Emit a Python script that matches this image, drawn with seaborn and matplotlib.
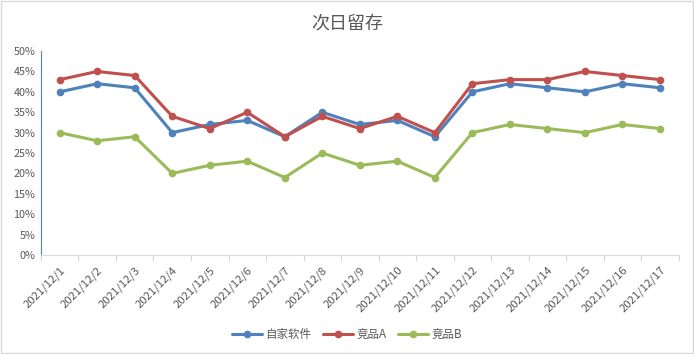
import matplotlib
matplotlib.use("Agg")
import matplotlib.pyplot as plt
import seaborn as sns
import pandas as pd
from matplotlib.ticker import FixedLocator, PercentFormatter

dates = [f"2021/12/{d}" for d in range(1, 18)]
self_app = [40, 42, 41, 30, 32, 33, 29, 35, 32, 33, 29, 40, 42, 41, 40, 42, 41]
comp_a = [43, 45, 44, 34, 31, 35, 29, 34, 31, 34, 30, 42, 43, 43, 45, 44, 43]
comp_b = [30, 28, 29, 20, 22, 23, 19, 25, 22, 23, 19, 30, 32, 31, 30, 32, 31]
series_names = ["自家软件", "竞品A", "竞品B"]
colors = ["#4F81BD", "#C0504D", "#9BBB59"]

rows = []
for name, vals in zip(series_names, [self_app, comp_a, comp_b]):
    for i, (d, v) in enumerate(zip(dates, vals)):
        rows.append({"idx": i, "date": d, "series": name, "value": v})
df = pd.DataFrame(rows)

sns.set_theme(style="white")
plt.rcParams["font.family"] = ["Noto Sans CJK SC", "DejaVu Sans"]

fig = plt.figure(figsize=(6.94, 3.54), dpi=100)
ax = fig.add_axes([0.059, 0.2797, 0.919, 0.576])

sns.lineplot(data=df, x="idx", y="value", hue="series", palette=colors,
             hue_order=series_names, marker="o", markersize=5.5,
             markeredgewidth=0, linewidth=2.2, ax=ax, legend=True)

ax.set_xlim(-0.5, 16.5)
ax.set_ylim(0, 50)
ax.set_yticks(range(0, 51, 5))
ax.yaxis.set_major_formatter(PercentFormatter(decimals=0))
ax.set_xticks(range(17))
ax.set_xticklabels(dates, rotation=45, ha="right", rotation_mode="anchor",
                   fontsize=8.2, color="#595959")
ax.xaxis.set_minor_locator(FixedLocator([i - 0.5 for i in range(18)]))
ax.tick_params(axis="x", which="major", length=0, pad=7)
ax.tick_params(axis="x", which="minor", length=4, color="#D9D9D9", width=0.8, bottom=True)
ax.tick_params(axis="y", length=0, labelsize=7.8, labelcolor="#595959", pad=4)
ax.set_xlabel("")
ax.set_ylabel("")
for s in ["top", "right"]:
    ax.spines[s].set_visible(False)
ax.spines["left"].set_color("#4F81BD")
ax.spines["left"].set_linewidth(0.8)
ax.spines["bottom"].set_color("#D9D9D9")
ax.spines["bottom"].set_linewidth(0.8)
ax.grid(False)

fig.text(0.5, 0.935, "次日留存", ha="center", va="center", fontsize=13, color="#595959")

handles, labels = ax.get_legend_handles_labels()
ax.legend_.remove()
fig.legend(handles, labels, loc="center", bbox_to_anchor=(0.5, 0.055), ncol=3,
           frameon=False, fontsize=8.3, handlelength=2.6, columnspacing=1.0,
           handletextpad=0.3, labelcolor="#595959")

border = plt.Rectangle((0.001, 0.002), 0.997, 0.995, transform=fig.transFigure,
                       fill=False, edgecolor="#D9D9D9", linewidth=1)
fig.patches.append(border)

fig.savefig("out.png", dpi=100)
